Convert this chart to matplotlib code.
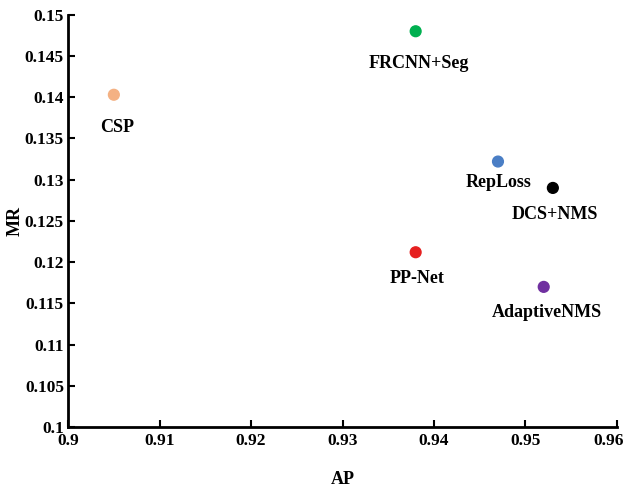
import matplotlib.pyplot as plt
import matplotlib.transforms as mtransforms

plt.rcParams['font.family'] = ['Liberation Serif', 'DejaVu Serif']
plt.rcParams['font.weight'] = 'bold'

methods = ['CSP', 'FRCNN+Seg', 'RepLoss', 'DCS+NMS', 'PP-Net', 'AdaptiveNMS']
ap = [0.905, 0.938, 0.947, 0.953, 0.938, 0.952]
mr = [0.1403, 0.148, 0.1322, 0.129, 0.1212, 0.117]
colors = ['#F4B183', '#00B050', '#4A7EC5', '#000000', '#E62020', '#7030A0']
# label offsets in pixels (dx, dy) relative to each point
offsets = [(3, -33), (3, -32), (1, -21), (2, -27), (1, -26), (3, -26)]

xticks = [0.9, 0.91, 0.92, 0.93, 0.94, 0.95, 0.96]
xlabels = ['0.9', '0.91', '0.92', '0.93', '0.94', '0.95', '0.96']
yticks = [0.1, 0.105, 0.11, 0.115, 0.12, 0.125, 0.13, 0.135, 0.14, 0.145, 0.15]
ylabels = ['0.1', '0.105', '0.11', '0.115', '0.12', '0.125', '0.13', '0.135', '0.14', '0.145', '0.15']

fig = plt.figure(figsize=(6.25, 4.92), dpi=100)
ax = fig.add_axes([0.109, 0.132, 0.878, 0.838])

ax.scatter(ap, mr, c=colors, s=60, zorder=3)
for name, x, y, (dx, dy) in zip(methods, ap, mr, offsets):
    ax.annotate(name, (x, y), xytext=(dx, dy), textcoords='offset pixels',
                ha='center', va='center', fontsize=13, fontweight='bold')

ax.set_xlim(0.9, 0.96)
ax.set_ylim(0.1, 0.15)
ax.set_xticks(xticks)
ax.set_xticklabels(xlabels)
ax.set_yticks(yticks)
ax.set_yticklabels(ylabels)
ax.tick_params(direction='in', length=5, width=1.5, labelsize=12.5)
ax.tick_params(axis='x', pad=4)
ax.tick_params(axis='y', pad=3)
# last x label sits against the right edge, nudge it left
last = ax.get_xticklabels()[-1]
last.set_transform(last.get_transform() + mtransforms.ScaledTranslation(-8 / 100, 0, fig.dpi_scale_trans))
for s in ['top', 'right']:
    ax.spines[s].set_visible(False)
for s in ['left', 'bottom']:
    ax.spines[s].set_linewidth(2)
ax.set_xlabel('AP', fontsize=13, fontweight='bold', labelpad=16)
ax.set_ylabel('MR', fontsize=13, fontweight='bold', va='center')
ax.yaxis.set_label_coords(-0.097, 0.5)

fig.savefig('out.png')
